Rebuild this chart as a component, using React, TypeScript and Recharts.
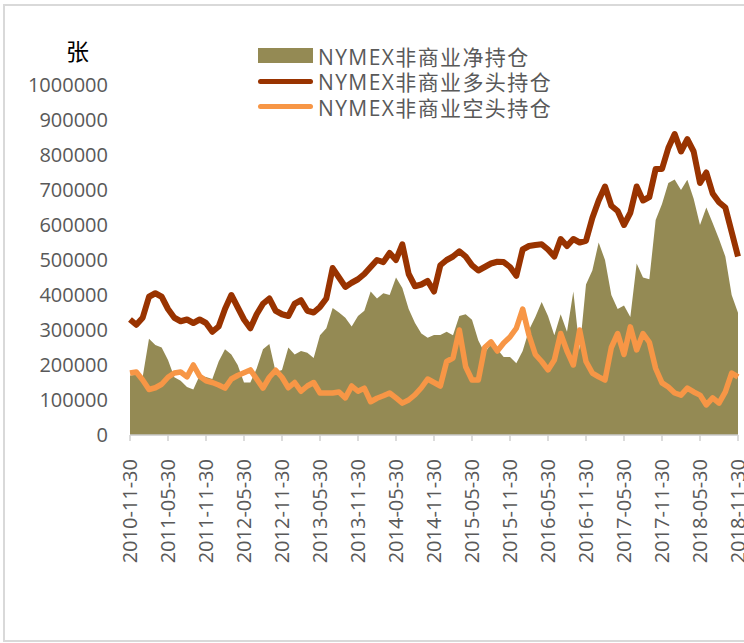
import { Area, ComposedChart, Line, XAxis, YAxis } from 'recharts'

// weekly COT data read roughly once a month, 2010-11-30 .. 2018-11-30
const dates: string[] = []
for (let i = 0; i < 97; i++) {
  const m = ((10 + i) % 12) + 1
  const y = 2010 + Math.floor((10 + i) / 12)
  dates.push(`${y}-${String(m).padStart(2, '0')}-30`)
}

const seriesNames = ['NYMEX非商业净持仓', 'NYMEX非商业多头持仓', 'NYMEX非商业空头持仓']

const netPositions = [
  170000, 172000, 166000, 275000, 257000, 250000, 214000, 165000, 155000, 137000,
  130000, 170000, 166000, 160000, 210000, 245000, 230000, 200000, 150000, 150000,
  190000, 245000, 260000, 180000, 186000, 250000, 230000, 240000, 235000, 220000,
  285000, 305000, 363000, 350000, 335000, 310000, 340000, 355000, 410000, 390000,
  405000, 400000, 450000, 420000, 360000, 320000, 290000, 278000, 286000, 286000,
  295000, 285000, 340000, 345000, 329000, 270000, 234000, 260000, 245000, 223000,
  223000, 205000, 240000, 300000, 337000, 380000, 340000, 285000, 345000, 295000,
  410000, 243000, 430000, 470000, 550000, 500000, 400000, 360000, 370000, 337000,
  490000, 450000, 445000, 614000, 660000, 720000, 730000, 700000, 729000, 675000,
  600000, 650000, 606000, 560000, 510000, 400000, 349000,
]

const longPositions = [
  330000, 315000, 335000, 395000, 405000, 395000, 360000, 335000, 325000, 330000,
  320000, 330000, 320000, 295000, 310000, 360000, 400000, 365000, 330000, 305000,
  345000, 375000, 390000, 355000, 345000, 340000, 375000, 385000, 355000, 350000,
  366000, 390000, 477000, 450000, 423000, 435000, 445000, 460000, 480000, 500000,
  494000, 520000, 500000, 545000, 460000, 425000, 430000, 440000, 410000, 485000,
  500000, 510000, 525000, 510000, 485000, 470000, 480000, 490000, 495000, 494000,
  480000, 455000, 530000, 540000, 543000, 545000, 530000, 510000, 560000, 540000,
  560000, 550000, 555000, 620000, 670000, 710000, 655000, 640000, 600000, 635000,
  710000, 670000, 680000, 760000, 760000, 820000, 860000, 810000, 845000, 810000,
  720000, 750000, 690000, 665000, 650000, 580000, 510000,
]

const shortPositions = [
  177000, 180000, 157000, 130000, 135000, 145000, 165000, 177000, 180000, 166000,
  200000, 168000, 155000, 150000, 143000, 134000, 160000, 170000, 178000, 186000,
  160000, 134000, 165000, 185000, 165000, 135000, 150000, 125000, 140000, 150000,
  120000, 120000, 120000, 123000, 106000, 140000, 125000, 134000, 95000, 105000,
  112000, 120000, 106000, 91000, 100000, 115000, 135000, 160000, 150000, 140000,
  210000, 220000, 300000, 195000, 157000, 157000, 250000, 266000, 240000, 263000,
  280000, 305000, 360000, 285000, 230000, 210000, 186000, 214000, 290000, 240000,
  200000, 300000, 210000, 177000, 166000, 157000, 250000, 290000, 230000, 309000,
  243000, 290000, 265000, 190000, 149000, 137000, 120000, 114000, 134000, 123000,
  114000, 86000, 106000, 91000, 123000, 177000, 166000,
]

const yTicks = [0, 100000, 200000, 300000, 400000, 500000, 600000, 700000, 800000, 900000, 1000000]

const data = dates.map((date, i) => ({
  date,
  net: netPositions[i],
  long: longPositions[i],
  short: shortPositions[i],
}))

const textColor = '#595959'
const font = "'Open Sans', 'Noto Sans CJK SC', sans-serif"

function DateTick(props: any) {
  const { x, y, payload } = props
  return (
    <text
      x={x}
      y={y + 16}
      transform={`rotate(-90, ${x}, ${y + 16})`}
      textAnchor='end'
      dy='0.36em'
      fill={textColor}
      fontSize={20}
      fontFamily={font}
    >
      {payload.value}
    </text>
  )
}

export default function App() {
  const legendRows = [
    { name: seriesNames[0], color: '#948A54', kind: 'area' },
    { name: seriesNames[1], color: '#993300', kind: 'line' },
    { name: seriesNames[2], color: '#F79646', kind: 'line' },
  ]
  return (
    <div
      style={{
        position: 'absolute',
        left: 0,
        top: 0,
        width: 744,
        height: 643,
        overflow: 'hidden',
        background: '#fff',
        fontFamily: font,
      }}
    >
      <div
        style={{
          position: 'absolute',
          left: 3,
          top: 4,
          width: 780,
          height: 634,
          border: '2px solid #d9d9d9',
        }}
      />
      <div
        style={{
          position: 'absolute',
          left: 66,
          top: 33,
          fontSize: 23,
          color: '#000',
          fontFamily: "'Noto Sans CJK SC', sans-serif",
        }}
      >
        张
      </div>
      <ComposedChart
        width={744}
        height={643}
        data={data}
        margin={{ top: 85, right: 6, bottom: 0, left: 8 }}
        style={{ position: 'absolute', left: 0, top: 0 }}
      >
        <XAxis
          dataKey='date'
          scale='point'
          interval={5}
          height={208}
          tick={<DateTick />}
          tickSize={6}
          tickLine={{ stroke: '#d0d0d0', strokeWidth: 1.5 }}
          axisLine={{ stroke: '#c8c8c8', strokeWidth: 1.5 }}
        />
        <YAxis
          width={122}
          domain={[0, 1000000]}
          ticks={yTicks}
          interval={0}
          axisLine={false}
          tickLine={false}
          tickMargin={16}
          tick={{ fill: textColor, fontSize: 20, fontFamily: font }}
        />
        <Area
          dataKey='net'
          type='linear'
          fill='#948A54'
          fillOpacity={1}
          stroke='none'
          activeDot={false}
          isAnimationActive={false}
        />
        <Line
          dataKey='long'
          type='linear'
          stroke='#993300'
          strokeWidth={6}
          strokeLinejoin='round'
          dot={false}
          activeDot={false}
          isAnimationActive={false}
        />
        <Line
          dataKey='short'
          type='linear'
          stroke='#F79646'
          strokeWidth={5.5}
          strokeLinejoin='round'
          dot={false}
          activeDot={false}
          isAnimationActive={false}
        />
      </ComposedChart>
      <div style={{ position: 'absolute', left: 258, top: 43 }}>
        {legendRows.map((r) => (
          <div key={r.name} style={{ display: 'flex', alignItems: 'center', height: 25.5 }}>
            <div style={{ width: 56, display: 'flex', alignItems: 'center' }}>
              {r.kind === 'area' ? (
                <div style={{ width: 55, height: 15, background: r.color }} />
              ) : (
                <div style={{ width: 55, height: 5, borderRadius: 3, background: r.color }} />
              )}
            </div>
            <span
              style={{
                marginLeft: 4,
                fontSize: 21,
                color: textColor,
                letterSpacing: 1.4,
                whiteSpace: 'nowrap',
              }}
            >
              {r.name}
            </span>
          </div>
        ))}
      </div>
    </div>
  )
}
